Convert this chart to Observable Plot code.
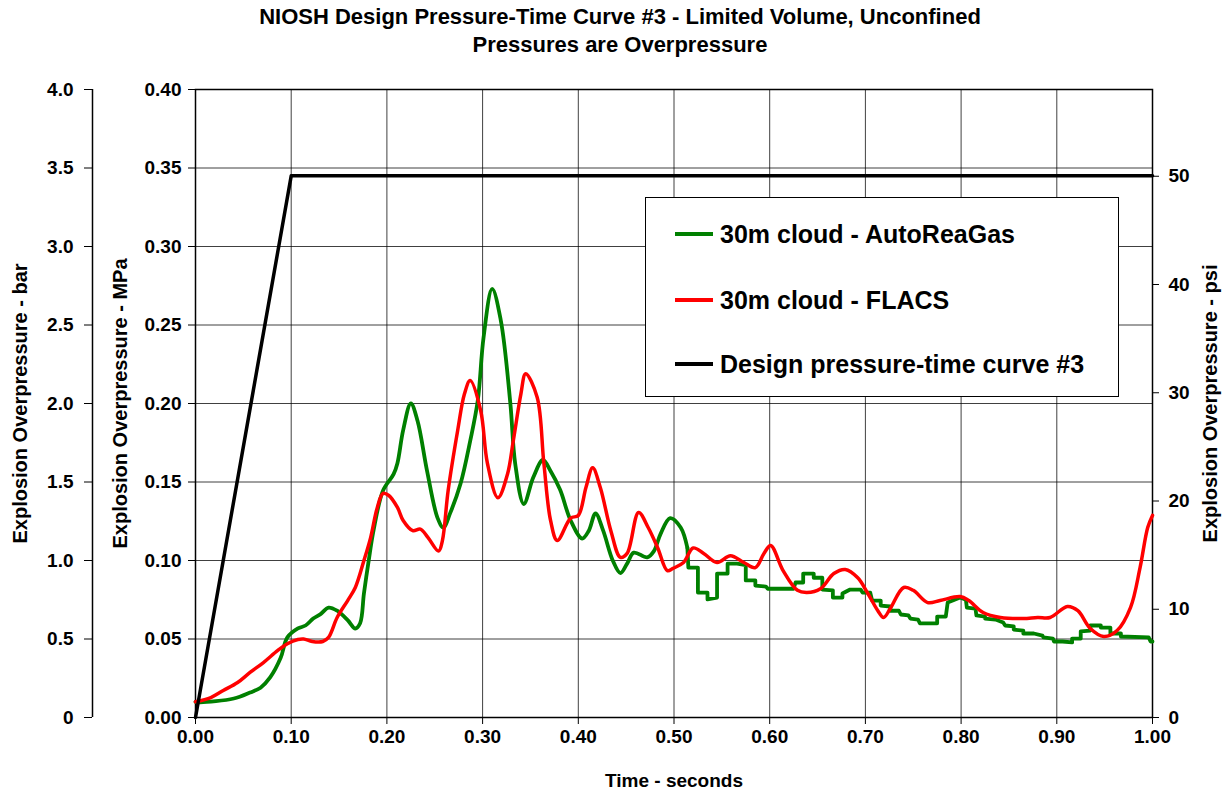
<!DOCTYPE html>
<html><head><meta charset="utf-8">
<script src="https://cdn.jsdelivr.net/npm/d3@7"></script>
<script src="https://cdn.jsdelivr.net/npm/@observablehq/plot@0.6"></script>
<style>
body{margin:0;background:#fff;font-family:"Liberation Sans",Arial,sans-serif;}
#wrap{position:relative;width:1222px;height:792px;overflow:hidden;}
#title{position:absolute;left:18px;top:3px;width:1204px;text-align:center;font-weight:bold;font-size:22px;line-height:28px;color:#000;}
#chart{position:absolute;left:0;top:70px;}
#legend{position:absolute;left:645px;top:197px;width:472px;height:198px;border:1px solid #000;background:#fff;}
.row{position:absolute;left:29px;height:30px;display:flex;align-items:center;font-weight:bold;font-size:25px;white-space:nowrap;color:#000;}
.sw{display:inline-block;width:38px;height:4px;margin-right:7px;}
</style></head>
<body>
<div id="wrap">
  <div id="title"></div>
  <div id="chart"></div>
  <div id="legend"></div>
</div>
<script>
// ---- Text ----
const titleLines = ["NIOSH Design Pressure-Time Curve #3 - Limited Volume, Unconfined", "Pressures are Overpressure"];
const xTitle = "Time - seconds";
const yTitleBar = "Explosion Overpressure - bar";
const yTitleMPa = "Explosion Overpressure - MPa";
const yTitlePsi = "Explosion Overpressure - psi";
const seriesNames = ["30m cloud - AutoReaGas", "30m cloud - FLACS", "Design pressure-time curve #3"];
const seriesColors = ["#008000", "#ff0000", "#000000"];

// ---- Ticks ----
const xTicks = [0, 0.1, 0.2, 0.3, 0.4, 0.5, 0.6, 0.7, 0.8, 0.9, 1.0];
const mpaTicks = [0, 0.05, 0.10, 0.15, 0.20, 0.25, 0.30, 0.35, 0.40];
const barTicks = [0, 0.5, 1.0, 1.5, 2.0, 2.5, 3.0, 3.5, 4.0];
const psiTicks = [0, 10, 20, 30, 40, 50];
const MPA_PER_PSI = 0.00689476;
const MPA_PER_BAR = 0.1;

// ---- Series: AutoReaGas (smooth part) ----
const greenSmoothT = [0.000,0.005,0.040,0.057,0.068,0.078,0.089,0.096,0.107,0.115,0.123,0.131,0.139,0.148,0.159,0.167,0.172,0.176,0.181,0.186,0.196,0.207,0.211,0.217,0.225,0.232,0.242,0.253,0.259,0.266,0.277,0.287,0.295,0.301,0.310,0.319,0.329,0.334,0.343,0.353,0.363,0.371,0.381,0.392,0.404,0.411,0.418,0.426,0.436,0.444,0.451,0.458,0.472,0.479,0.486,0.496,0.507,0.514];
const greenSmoothP = [0.0100,0.0097,0.0121,0.0159,0.0190,0.0255,0.0380,0.0510,0.0567,0.0586,0.0630,0.0660,0.0700,0.0680,0.0620,0.0567,0.0600,0.0790,0.1000,0.1190,0.1446,0.1550,0.1620,0.1830,0.2000,0.1890,0.1570,0.1270,0.1210,0.1300,0.1490,0.1760,0.2020,0.2420,0.2730,0.2530,0.2000,0.1620,0.1360,0.1530,0.1640,0.1570,0.1450,0.1255,0.1140,0.1190,0.1300,0.1190,0.1000,0.0920,0.0980,0.1050,0.1020,0.1060,0.1170,0.1270,0.1210,0.1080];
// ---- Series: AutoReaGas (stepped part) ----
const greenStepT = [0.514,0.515,0.525,0.525,0.535,0.535,0.545,0.545,0.556,0.556,0.566,0.575,0.575,0.585,0.585,0.596,0.598,0.625,0.627,0.635,0.635,0.646,0.646,0.655,0.655,0.666,0.666,0.676,0.676,0.684,0.695,0.697,0.705,0.707,0.716,0.716,0.726,0.726,0.735,0.737,0.745,0.747,0.755,0.757,0.775,0.775,0.784,0.786,0.799,0.805,0.806,0.815,0.816,0.825,0.825,0.836,0.844,0.846,0.855,0.855,0.865,0.865,0.876,0.885,0.886,0.896,0.897,0.906,0.916,0.916,0.925,0.925,0.935,0.935,0.946,0.946,0.956,0.956,0.967,0.967,0.996,0.998,1.000];
const greenStepP = [0.1080,0.0955,0.0955,0.0796,0.0796,0.0752,0.0764,0.0917,0.0917,0.0980,0.0980,0.0970,0.0873,0.0873,0.0840,0.0834,0.0820,0.0820,0.0860,0.0860,0.0917,0.0917,0.0890,0.0890,0.0815,0.0810,0.0764,0.0764,0.0790,0.0815,0.0815,0.0796,0.0796,0.0745,0.0745,0.0713,0.0707,0.0680,0.0680,0.0656,0.0650,0.0630,0.0624,0.0600,0.0600,0.0643,0.0643,0.0732,0.0764,0.0750,0.0700,0.0694,0.0650,0.0643,0.0630,0.0624,0.0605,0.0586,0.0580,0.0560,0.0554,0.0535,0.0535,0.0522,0.0510,0.0503,0.0484,0.0484,0.0478,0.0503,0.0503,0.0548,0.0554,0.0586,0.0586,0.0573,0.0573,0.0535,0.0535,0.0516,0.0510,0.0484,0.0484];

// ---- Series: FLACS ----
const redT = [0.000,0.016,0.029,0.044,0.057,0.071,0.086,0.096,0.107,0.113,0.122,0.133,0.139,0.148,0.159,0.167,0.176,0.183,0.190,0.196,0.202,0.211,0.217,0.227,0.235,0.243,0.254,0.258,0.264,0.274,0.281,0.287,0.298,0.305,0.316,0.326,0.332,0.340,0.345,0.357,0.364,0.371,0.378,0.392,0.400,0.408,0.415,0.423,0.434,0.444,0.451,0.463,0.473,0.483,0.493,0.499,0.510,0.520,0.531,0.545,0.559,0.573,0.585,0.594,0.601,0.614,0.629,0.639,0.653,0.667,0.679,0.692,0.702,0.713,0.719,0.726,0.740,0.750,0.765,0.778,0.799,0.808,0.823,0.841,0.865,0.880,0.893,0.911,0.922,0.935,0.949,0.963,0.977,0.987,0.995,1.000];
const redP = [0.0100,0.0127,0.0172,0.0223,0.0287,0.0350,0.0427,0.0470,0.0497,0.0500,0.0484,0.0484,0.0510,0.0637,0.0745,0.0828,0.1000,0.1146,0.1338,0.1427,0.1414,0.1338,0.1255,0.1190,0.1200,0.1146,0.1060,0.1127,0.1446,0.1830,0.2060,0.2146,0.1955,0.1620,0.1400,0.1550,0.1760,0.2060,0.2190,0.2040,0.1620,0.1255,0.1127,0.1270,0.1287,0.1465,0.1590,0.1465,0.1190,0.1020,0.1045,0.1306,0.1210,0.1080,0.0936,0.0950,0.0987,0.1080,0.1045,0.0987,0.1030,0.0987,0.0955,0.1045,0.1096,0.0936,0.0810,0.0796,0.0820,0.0917,0.0943,0.0890,0.0796,0.0680,0.0637,0.0694,0.0828,0.0810,0.0732,0.0745,0.0770,0.0745,0.0669,0.0637,0.0630,0.0637,0.0637,0.0707,0.0680,0.0567,0.0516,0.0554,0.0700,0.0955,0.1210,0.1287];

// ---- Series: Design curve #3 ----
const designT = [0, 0.1, 1.0];
const designP = [0, 0.345, 0.345];

const toRows = (T, P) => T.map((t, i) => ({t, p: P[i]}));
const greenSmooth = toRows(greenSmoothT, greenSmoothP);
const greenStep = toRows(greenStepT, greenStepP);
const red = toRows(redT, redP);
const design = toRows(designT, designP);

document.getElementById("title").innerHTML = titleLines.join("<br>");

const FONT = "'Liberation Sans', Arial, sans-serif";
const tickFont = {fontSize: 19, fontWeight: "bold", fill: "#000"};
const titleFont = {fontSize: 20, fontWeight: "bold", fill: "#000", textAnchor: "middle", lineAnchor: "middle"};

const chart = Plot.plot({
  width: 1222,
  height: 722,
  marginTop: 19,
  marginBottom: 75,
  marginLeft: 195,
  marginRight: 70,
  style: {fontFamily: FONT, color: "#000", background: "#fff", overflow: "visible"},
  x: {domain: [0, 1]},
  y: {domain: [0, 0.4]},
  marks: [
    Plot.gridX(xTicks, {stroke: "#000", strokeOpacity: 0.75, strokeWidth: 1}),
    Plot.gridY(mpaTicks, {stroke: "#000", strokeOpacity: 0.75, strokeWidth: 1}),
    Plot.frame({stroke: "#000", strokeWidth: 1.5}),
    Plot.axisX(xTicks, {tickSize: 7, tickPadding: 5, tickFormat: d3.format(".2f"), label: null, ...tickFont}),
    Plot.axisY(mpaTicks, {anchor: "left", tickSize: 7, tickPadding: 7, tickFormat: d3.format(".2f"), label: null, ...tickFont}),
    Plot.axisY(barTicks.map(b => b * MPA_PER_BAR), {anchor: "left", dx: -103, tickSize: 8, tickPadding: 11,
      tickFormat: d => { const b = Math.round(d / MPA_PER_BAR * 10) / 10; return b === 0 ? "0" : b.toFixed(1); }, label: null, ...tickFont}),
    Plot.ruleX([0], {dx: -103, stroke: "#000", strokeWidth: 1.5}),
    Plot.axisY(psiTicks.map(v => v * MPA_PER_PSI), {anchor: "right", tickSize: 6, tickPadding: 10,
      tickFormat: d => String(Math.round(d / MPA_PER_PSI)), label: null, ...tickFont}),
    Plot.text([xTitle], {frameAnchor: "bottom", dy: 63, ...titleFont, fontSize: 19}),
    Plot.text([yTitleBar], {frameAnchor: "left", dx: -175, rotate: -90, ...titleFont}),
    Plot.text([yTitleMPa], {frameAnchor: "left", dx: -75, rotate: -90, ...titleFont}),
    Plot.text([yTitlePsi], {frameAnchor: "right", dx: 58, rotate: -90, ...titleFont}),
    Plot.line(greenSmooth, {x: "t", y: "p", stroke: seriesColors[0], strokeWidth: 3.8, curve: "catmull-rom"}),
    Plot.line(greenStep, {x: "t", y: "p", stroke: seriesColors[0], strokeWidth: 3.8, curve: "linear"}),
    Plot.line(red, {x: "t", y: "p", stroke: seriesColors[1], strokeWidth: 3.5, curve: "catmull-rom"}),
    Plot.line(design, {x: "t", y: "p", stroke: seriesColors[2], strokeWidth: 3.5, curve: "linear"})
  ]
});
document.getElementById("chart").appendChild(chart);

// ---- Legend ----
const legend = document.getElementById("legend");
const rowTops = [21, 87, 151];
seriesNames.forEach((name, i) => {
  const row = document.createElement("div");
  row.className = "row";
  row.style.top = rowTops[i] + "px";
  const sw = document.createElement("span");
  sw.className = "sw";
  sw.style.background = seriesColors[i];
  row.appendChild(sw);
  row.appendChild(document.createTextNode(name));
  legend.appendChild(row);
});
</script>
</body></html>
